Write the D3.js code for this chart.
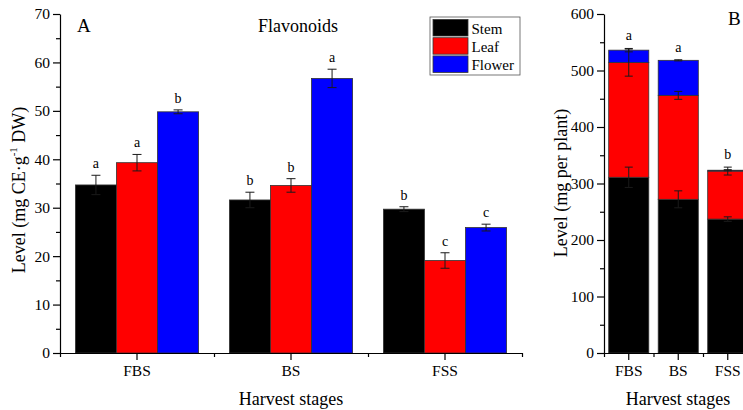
<!DOCTYPE html>
<html>
<head>
<meta charset="utf-8">
<script src="https://cdn.jsdelivr.net/npm/d3@7"></script>
<style>
  body { margin: 0; background: #fff; }
  svg { display: block; }
  .axis path, .axis line { stroke: #000; stroke-width: 1.2; }
</style>
</head>
<body>
<div id="chart"></div>
<script>
'use strict';

const FONT = "Liberation Serif";

const categories = ["FBS", "BS", "FSS"];
const series = ["Stem", "Leaf", "Flower"];
const colors = { Stem: "#000000", Leaf: "#ff0000", Flower: "#0000ff" };

// panel A: flavonoids, mg CE/g DW
const flavStem = [34.7, 31.6, 29.7];
const flavLeaf = [39.3, 34.6, 19.1];
const flavFlower = [49.8, 56.7, 25.9];
const flavStemErr = [2.0, 1.6, 0.5];
const flavLeafErr = [1.7, 1.4, 1.6];
const flavFlowerErr = [0.4, 1.9, 0.7];
const flavStemLetters = ["a", "b", "b"];
const flavLeafLetters = ["a", "b", "c"];
const flavFlowerLetters = ["b", "a", "c"];
const flavTicks = [0, 10, 20, 30, 40, 50, 60, 70];

// panel B: mg per plant, stacked
const plantStem = [311, 272, 237];
const plantLeaf = [203, 184, 85];
const plantFlower = [22, 62, 1.5];
const plantStemErr = [18, 15, 4];
const plantLeafErr = [24, 7, 7];
const plantFlowerErr = [3, 1, 1];
const plantLetters = ["a", "a", "b"];
const plantTicks = [0, 100, 200, 300, 400, 500, 600];

const W = 743, H = 410;
const svg = d3.select("#chart").append("svg").attr("width", W).attr("height", H)
    .attr("font-family", FONT);

const errColor = "#1a1a1a";

function label(g, x, y, txt, size) {
    return g.append("text").attr("x", x).attr("y", y)
        .attr("font-family", FONT).attr("font-size", size).attr("fill", "#000").text(txt);
}

function drawErr(g, cx, yTop, yBot, cap) {
    g.append("line").attr("x1", cx).attr("x2", cx).attr("y1", yTop).attr("y2", yBot)
        .attr("stroke", errColor).attr("stroke-width", 1);
    [yTop, yBot].forEach(y => {
        g.append("line").attr("x1", cx - cap / 2).attr("x2", cx + cap / 2).attr("y1", y).attr("y2", y)
            .attr("stroke", errColor).attr("stroke-width", 1);
    });
}

function drawAxes(x, y, majors, minors, fontSize) {
    const gy = svg.append("g").attr("class", "axis")
        .attr("transform", `translate(${x.range()[0]},0)`);
    gy.call(d3.axisLeft(y).tickValues(majors).tickSize(7).tickSizeOuter(0).tickPadding(3));
    gy.attr("font-family", FONT).attr("font-size", fontSize);
    const gym = svg.append("g").attr("class", "axis")
        .attr("transform", `translate(${x.range()[0]},0)`);
    gym.call(d3.axisLeft(y).tickValues(minors).tickSize(4).tickFormat(""));
    gym.select(".domain").remove();

    const gx = svg.append("g").attr("class", "axis")
        .attr("transform", `translate(0,${y(0)})`);
    gx.call(d3.axisBottom(x).tickSize(7).tickSizeOuter(0).tickPadding(5));
    gx.attr("font-family", FONT).attr("font-size", fontSize);
    const edge = d3.scaleLinear().domain([0, categories.length]).range(x.range());
    const gxm = svg.append("g").attr("class", "axis")
        .attr("transform", `translate(0,${y(0)})`);
    gxm.call(d3.axisBottom(edge).tickValues(d3.range(0, categories.length + 1)).tickSize(4).tickFormat(""));
    gxm.select(".domain").remove();
}

// ---------- panel A ----------
const yA = d3.scaleLinear().domain([0, 70]).range([353, 14]);
const xA = d3.scaleBand().domain(categories).range([60, 522]).paddingInner(0.2).paddingOuter(0.1);
const xAs = d3.scaleBand().domain(series).range([0, xA.bandwidth()]);

const flavRows = [
    { s: "Stem", v: flavStem, e: flavStemErr, l: flavStemLetters },
    { s: "Leaf", v: flavLeaf, e: flavLeafErr, l: flavLeafLetters },
    { s: "Flower", v: flavFlower, e: flavFlowerErr, l: flavFlowerLetters },
];

const gA = svg.append("g");
flavRows.forEach(r => {
    categories.forEach((c, i) => {
        const x0 = xA(c) + xAs(r.s);
        gA.append("rect")
            .attr("x", x0).attr("y", yA(r.v[i]))
            .attr("width", xAs.bandwidth()).attr("height", yA(0) - yA(r.v[i]))
            .attr("fill", colors[r.s]).attr("stroke", "#333").attr("stroke-width", 0.8);
    });
});
flavRows.forEach(r => {
    categories.forEach((c, i) => {
        const cx = xA(c) + xAs(r.s) + xAs.bandwidth() / 2;
        drawErr(gA, cx, yA(r.v[i] + r.e[i]), yA(r.v[i] - r.e[i]), 9);
        label(gA, cx, yA(r.v[i] + r.e[i]) - 7, r.l[i], 14).attr("text-anchor", "middle");
    });
});

drawAxes(xA, yA, flavTicks, d3.range(5, 70, 10), 15.5);

label(svg, 77, 32, "A", 19);
label(svg, 298, 32, "Flavonoids", 18).attr("text-anchor", "middle");

const labA = svg.append("text").attr("transform", "translate(25,190) rotate(-90)")
    .attr("text-anchor", "middle").attr("font-family", FONT).attr("font-size", 18);
labA.append("tspan").text("Level (mg CE\u00b7g");
labA.append("tspan").attr("dy", -8).attr("font-size", 11).text("-1");
labA.append("tspan").attr("dy", 8).text(" DW)");

label(svg, (xA.range()[0] + xA.range()[1]) / 2, 405, "Harvest stages", 18).attr("text-anchor", "middle");

// legend
const leg = svg.append("g");
leg.append("rect").attr("x", 430).attr("y", 17).attr("width", 90).attr("height", 58)
    .attr("fill", "#fff").attr("stroke", "#555").attr("stroke-width", 0.8);
series.forEach((s, i) => {
    const ry = 19.5 + i * 18.2;
    leg.append("rect").attr("x", 433).attr("y", ry).attr("width", 35).attr("height", 16.5)
        .attr("fill", colors[s]).attr("stroke", "#333").attr("stroke-width", 0.8);
    label(leg, 471.5, ry + 14, s, 15);
});

// ---------- panel B ----------
const yB = d3.scaleLinear().domain([0, 600]).range([353, 14]);
const xB = d3.scaleBand().domain(categories).range([604, 752.5]).paddingInner(0.19).paddingOuter(0.095);

const table = categories.map((c, i) => ({
    cat: c, Stem: plantStem[i], Leaf: plantLeaf[i], Flower: plantFlower[i],
}));
const errs = { Stem: plantStemErr, Leaf: plantLeafErr, Flower: plantFlowerErr };
const stacked = d3.stack().keys(series)(table);

const gB = svg.append("g");
stacked.forEach(layer => {
    layer.forEach((d, i) => {
        gB.append("rect")
            .attr("x", xB(d.data.cat)).attr("y", yB(d[1]))
            .attr("width", xB.bandwidth()).attr("height", yB(d[0]) - yB(d[1]))
            .attr("fill", colors[layer.key]).attr("stroke", "#333").attr("stroke-width", 0.8);
    });
});
const tops = categories.map(() => 0);
stacked.forEach(layer => {
    layer.forEach((d, i) => {
        const cx = xB(d.data.cat) + xB.bandwidth() / 2;
        const e = errs[layer.key][i];
        drawErr(gB, cx, yB(d[1] + e), yB(d[1] - e), 8);
        tops[i] = Math.max(tops[i], d[1] + e);
    });
});
categories.forEach((c, i) => {
    label(gB, xB(c) + xB.bandwidth() / 2, yB(tops[i]) - 8, plantLetters[i], 14).attr("text-anchor", "middle");
});

drawAxes(xB, yB, plantTicks, d3.range(50, 600, 100), 15.5);

label(svg, 728, 25, "B", 19);
svg.append("text").attr("transform", "translate(567,183) rotate(-90)")
    .attr("text-anchor", "middle").attr("font-family", FONT).attr("font-size", 18)
    .text("Level (mg per plant)");
label(svg, 678, 405, "Harvest stages", 18).attr("text-anchor", "middle");
</script>
</body>
</html>
